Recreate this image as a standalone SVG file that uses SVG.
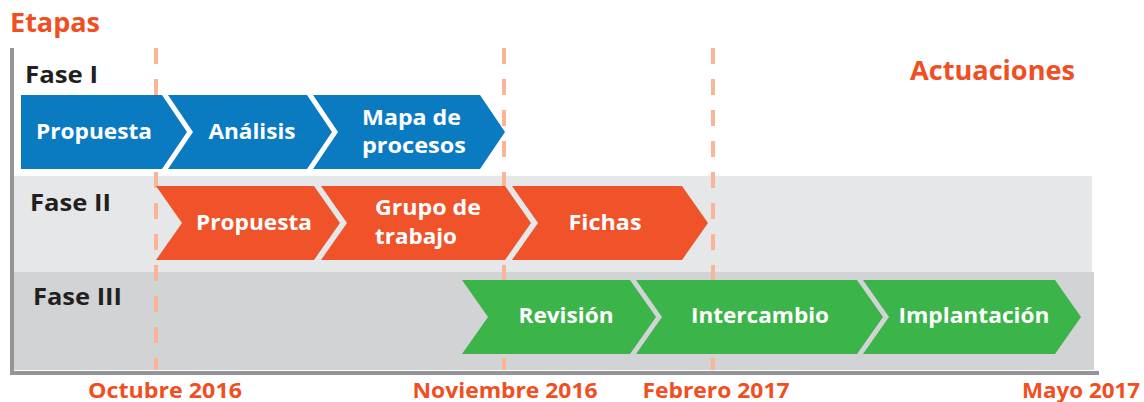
<svg xmlns="http://www.w3.org/2000/svg" width="1144" height="402" viewBox="0 0 1144 402">
<style>
.t{font-family:"Open Sans","Liberation Sans",sans-serif;font-weight:700}
.w{fill:#ffffff;font-size:21px}
.o{fill:#f04e23}
.k{fill:#231f20;font-size:24px}
.d{font-size:21px;text-anchor:middle}
.c{text-anchor:middle}
.blue{fill:#0a7bc1}
.org{fill:#f0522a}
.grn{fill:#3bb44a}
.guide{stroke:#f9b596;stroke-width:4;stroke-dasharray:16 15;fill:none}
</style>
<rect width="1144" height="402" fill="#ffffff"/>
<g id="rows">
<rect x="14" y="176" width="1078" height="96" fill="#e6e7e8"/>
<rect x="14" y="272" width="1080" height="98" fill="#d1d3d4"/>
</g>
<g id="axes" fill="none" stroke="#939598" stroke-width="4">
<line x1="12" y1="48" x2="12" y2="374"/>
<line x1="10" y1="373" x2="1099" y2="373"/>
</g>
<g id="connectors">
<line class="guide" x1="156" y1="48" x2="156" y2="370"/>
<line class="guide" x1="504" y1="48" x2="504" y2="370"/>
<line class="guide" x1="713" y1="48" x2="713" y2="370"/>
</g>
<text class="t o" x="10" y="32" font-size="26" textLength="90" lengthAdjust="spacingAndGlyphs">Etapas</text>
<text class="t o" x="910" y="80" font-size="26" textLength="165" lengthAdjust="spacingAndGlyphs">Actuaciones</text>
<g id="fase1">
<text class="t k" x="25" y="83" textLength="73" lengthAdjust="spacingAndGlyphs">Fase I</text>
<g id="f1-propuesta"><polygon class="blue" points="21,95 162,95 187,132 162,169 21,169"/><text class="t w c" x="94" y="139" textLength="116" lengthAdjust="spacingAndGlyphs">Propuesta</text></g>
<g id="f1-analisis"><polygon class="blue" points="168,95 307,95 332,132 307,169 168,169 193,132"/><text class="t w c" x="252" y="139" textLength="87" lengthAdjust="spacingAndGlyphs">Análisis</text></g>
<g id="f1-mapa"><polygon class="blue" points="313,95 480,95 505,132 480,169 313,169 338,132"/><text class="t w" x="362" y="125" textLength="99" lengthAdjust="spacingAndGlyphs">Mapa de</text><text class="t w" x="362" y="153" textLength="104" lengthAdjust="spacingAndGlyphs">procesos</text></g>
</g>
<g id="fase2">
<text class="t k" x="30" y="211" textLength="81" lengthAdjust="spacingAndGlyphs">Fase II</text>
<g id="f2-propuesta"><polygon class="org" points="156,186 314,186 340,223 314,260 156,260 182,223"/><text class="t w c" x="254" y="230" textLength="116" lengthAdjust="spacingAndGlyphs">Propuesta</text></g>
<g id="f2-grupo"><polygon class="org" points="321,186 505,186 531,223 505,260 321,260 347,223"/><text class="t w" x="375" y="215" textLength="106" lengthAdjust="spacingAndGlyphs">Grupo de</text><text class="t w" x="375" y="244" textLength="82" lengthAdjust="spacingAndGlyphs">trabajo</text></g>
<g id="f2-fichas"><polygon class="org" points="512,186 682,186 708,223 682,260 512,260 538,223"/><text class="t w c" x="605" y="230" textLength="73" lengthAdjust="spacingAndGlyphs">Fichas</text></g>
</g>
<g id="fase3">
<text class="t k" x="33" y="305" textLength="89" lengthAdjust="spacingAndGlyphs">Fase III</text>
<g id="f3-revision"><polygon class="grn" points="462,280 630,280 656,317 630,354 462,354 488,317"/><text class="t w c" x="566" y="323" textLength="95" lengthAdjust="spacingAndGlyphs">Revisión</text></g>
<g id="f3-intercambio"><polygon class="grn" points="636,280 857,280 883,317 857,354 636,354 662,317"/><text class="t w c" x="760" y="323" textLength="138" lengthAdjust="spacingAndGlyphs">Intercambio</text></g>
<g id="f3-implantacion"><polygon class="grn" points="863,280 1055,280 1081,317 1055,354 863,354 889,317"/><text class="t w c" x="974" y="323" textLength="151" lengthAdjust="spacingAndGlyphs">Implantación</text></g>
</g>
<g id="dates">
<text class="t o d" x="165" y="398" textLength="154" lengthAdjust="spacingAndGlyphs">Octubre 2016</text>
<text class="t o d" x="505" y="398" textLength="185" lengthAdjust="spacingAndGlyphs">Noviembre 2016</text>
<text class="t o d" x="716" y="398" textLength="147" lengthAdjust="spacingAndGlyphs">Febrero 2017</text>
<text class="t o d" x="1081" y="398" textLength="118" lengthAdjust="spacingAndGlyphs">Mayo 2017</text>
</g>
</svg>
